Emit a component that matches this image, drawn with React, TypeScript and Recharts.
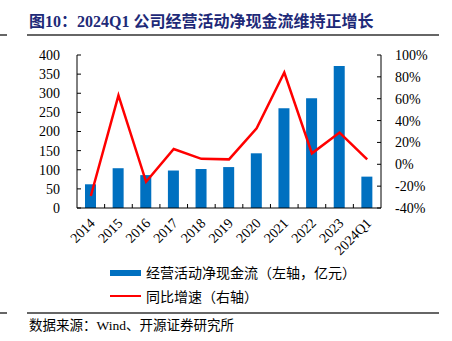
import React from "react";
import { ComposedChart, Bar, Line, XAxis, YAxis } from "recharts";

const categories = ["2014", "2015", "2016", "2017", "2018", "2019", "2020", "2021", "2022", "2023", "2024Q1"];
const cashFlow = [62, 104, 86, 98, 102, 107, 143, 261, 287, 371, 82];
const growth = [-29, 63, -16, 14, 5, 4.5, 33, 84, 10, 29, 4.5];
const leftTicks = [0, 50, 100, 150, 200, 250, 300, 350, 400];
const rightTicks = [-40, -20, 0, 20, 40, 60, 80, 100];

const data = categories.map((c, i) => ({ name: c, cash: cashFlow[i], growth: growth[i] }));

const W = 452;
const H = 341;
const M = { top: 55, right: 11, bottom: 83, left: 17 };
const YW = 60;
const plotW = W - M.left - M.right - YW * 2;
const half = plotW / categories.length / 2;

const serif = "'Liberation Serif', 'Times New Roman', serif";
const cjk = "'Noto Sans CJK SC', sans-serif";

const XTick = (props: any) => {
  const { x, y, payload, index } = props;
  return (
    <g>
      {index > 0 && (
        <line x1={x - half} x2={x - half} y1={y - 8} y2={y - 12} stroke="#000" strokeWidth={1} />
      )}
      <text
        x={x + 5}
        y={y + 8}
        textAnchor="end"
        fontFamily={serif}
        fontSize={14}
        fill="#000"
        transform={`rotate(-45, ${x + 5}, ${y + 8})`}
      >
        {payload.value}
      </text>
    </g>
  );
};

export default function App() {
  return (
    <div style={{ position: "absolute", left: 0, top: 0, width: W, height: H, background: "#fff" }}>
      <div
        style={{
          position: "absolute",
          left: 29,
          top: 12,
          fontFamily: `${serif}, ${cjk}`,
          fontWeight: "bold",
          fontSize: 16,
          color: "#1e2a78",
          whiteSpace: "nowrap",
          lineHeight: "20px",
        }}
      >
        图10：2024Q1 公司经营活动净现金流维持正增长
      </div>
      <div style={{ position: "absolute", left: 0, top: 34, width: 7, height: 1.5, background: "#666" }} />
      <div style={{ position: "absolute", left: 27, top: 34, width: 412, height: 1.5, background: "#666" }} />

      <ComposedChart width={W} height={H} data={data} margin={M}>
        <XAxis
          dataKey="name"
          xAxisId={0}
          tick={<XTick />}
          tickLine={false}
          axisLine={{ stroke: "#000" }}
          interval={0}
          height={50}
        />
        <YAxis
          yAxisId="left"
          orientation="left"
          domain={[0, 400]}
          ticks={leftTicks}
          width={YW}
          tickSize={-4}
          tickMargin={21}
          axisLine={{ stroke: "#000" }}
          tickLine={{ stroke: "#000" }}
          tick={{ fontFamily: serif, fontSize: 14, fill: "#000" }}
          interval={0}
        />
        <YAxis
          yAxisId="right"
          orientation="right"
          domain={[-40, 100]}
          ticks={rightTicks}
          width={YW}
          tickSize={-4}
          tickMargin={18}
          axisLine={{ stroke: "#000" }}
          tickLine={{ stroke: "#000" }}
          tickFormatter={(v: number) => `${v}%`}
          tick={{ fontFamily: serif, fontSize: 14, fill: "#000" }}
          interval={0}
        />
        <Bar dataKey="cash" yAxisId="left" fill="#0070C0" barSize={11} isAnimationActive={false} />
        <Line
          dataKey="growth"
          yAxisId="right"
          type="linear"
          stroke="#FF0000"
          strokeWidth={2.5}
          dot={false}
          activeDot={false}
          isAnimationActive={false}
        />
      </ComposedChart>

      <div style={{ position: "absolute", left: 110, top: 270, width: 31, height: 6, background: "#0070C0" }} />
      <div
        style={{
          position: "absolute",
          left: 146,
          top: 263,
          fontFamily: cjk,
          fontSize: 14,
          lineHeight: "18px",
          color: "#000",
          whiteSpace: "nowrap",
        }}
      >
        经营活动净现金流（左轴，亿元）
      </div>
      <div style={{ position: "absolute", left: 110, top: 295, width: 31, height: 2, background: "#FF0000" }} />
      <div
        style={{
          position: "absolute",
          left: 146,
          top: 287,
          fontFamily: cjk,
          fontSize: 14,
          lineHeight: "18px",
          color: "#000",
          whiteSpace: "nowrap",
        }}
      >
        同比增速（右轴）
      </div>

      <div style={{ position: "absolute", left: 0, top: 312, width: 7, height: 1.5, background: "#666" }} />
      <div style={{ position: "absolute", left: 27, top: 312, width: 412, height: 1.5, background: "#666" }} />
      <div
        style={{
          position: "absolute",
          left: 29,
          top: 317,
          fontFamily: `${serif}, ${cjk}`,
          fontSize: 13.5,
          lineHeight: "18px",
          color: "#000",
          whiteSpace: "nowrap",
        }}
      >
        数据来源：Wind、开源证券研究所
      </div>
    </div>
  );
}
